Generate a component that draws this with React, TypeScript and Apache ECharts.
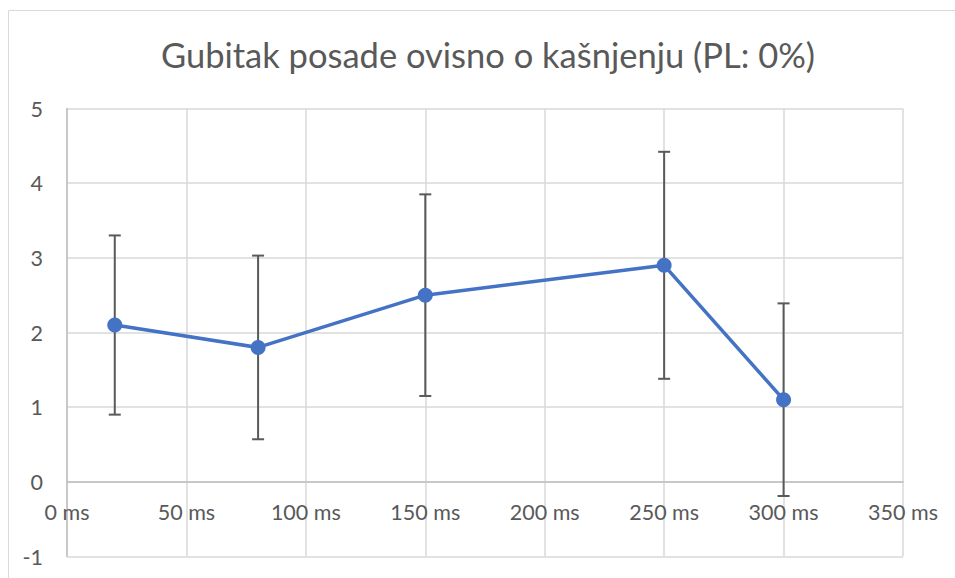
import React, { useEffect, useRef } from "react";
import * as echarts from "echarts";

const chartTitle = "Gubitak posade ovisno o kašnjenju (PL: 0%)";
const delaysMs = [20, 80, 150, 250, 300];
const crewLoss = [2.1, 1.8, 2.5, 2.9, 1.1];
const errorMargin = [1.2, 1.23, 1.35, 1.52, 1.29];
const xMin = 0;
const xMax = 350;
const xStep = 50;
const yMin = -1;
const yMax = 5;
const yStep = 1;

const FONT = "Lato";
const GRID_TOP = 108.5;
const GRID_BOTTOM = 21.5;
const CHART_H = 578;

export default function App() {
  const ref = useRef<HTMLDivElement>(null);
  useEffect(() => {
    if (!ref.current) return;
    const chart = echarts.init(ref.current, null, { renderer: "svg" });
    const lineData = delaysMs.map((x, i) => [x, crewLoss[i]]);
    const errData = delaysMs.map((x, i) => [x, crewLoss[i] - errorMargin[i], crewLoss[i] + errorMargin[i]]);
    const plotH = CHART_H - GRID_TOP - GRID_BOTTOM;
    const zeroOffset = -((0 - yMin) / (yMax - yMin)) * plotH;
    chart.setOption({
      animation: false,
      backgroundColor: "#ffffff",
      graphic: [
        {
          type: "rect",
          shape: { x: 8.5, y: 10.5, width: 1000, height: 1000 },
          style: { fill: "none", stroke: "#d9d9d9", lineWidth: 1 },
          silent: true,
          z: -10,
        },
        {
          type: "text",
          x: 488,
          y: 54,
          style: {
            text: chartTitle,
            fill: "#595959",
            font: `34.5px ${FONT}`,
            textAlign: "center",
            textVerticalAlign: "middle",
          },
        },
      ],
      grid: { left: 67, right: 52, top: GRID_TOP, bottom: GRID_BOTTOM, containLabel: false, outerBoundsMode: "none" },
      xAxis: {
        type: "value",
        min: xMin,
        max: xMax,
        interval: xStep,
        position: "bottom",
        offset: zeroOffset,
        axisLine: { show: true, onZero: false, lineStyle: { color: "#bfbfbf", width: 1.5 } },
        axisTick: { show: false },
        splitLine: { show: true, lineStyle: { color: "#d9d9d9", width: 1.5 } },
        axisLabel: {
          formatter: (v: number) => `${v} ms`,
          color: "#595959",
          fontFamily: FONT,
          fontSize: 21.5,
          margin: 19,
        },
      },
      yAxis: {
        type: "value",
        min: yMin,
        max: yMax,
        interval: yStep,
        axisLine: { show: true, onZero: false, lineStyle: { color: "#bfbfbf", width: 1.5 } },
        axisTick: { show: false },
        splitLine: { show: true, lineStyle: { color: "#d9d9d9", width: 1.5 } },
        axisLabel: {
          color: "#595959",
          fontFamily: FONT,
          fontSize: 21.5,
          margin: 24,
        },
      },
      series: [
        {
          type: "custom",
          z: 1,
          data: errData,
          encode: { x: 0, y: [1, 2] },
          renderItem: (params: any, api: any) => {
            const x = api.value(0);
            const lo = api.value(1);
            const hi = api.value(2);
            const top = api.coord([x, hi]);
            const bot = api.coord([x, lo]);
            const hw = 6;
            const style = { stroke: "#595959", lineWidth: 2 };
            return {
              type: "group",
              children: [
                { type: "line", shape: { x1: top[0], y1: top[1], x2: bot[0], y2: bot[1] }, style },
                { type: "line", shape: { x1: top[0] - hw, y1: top[1], x2: top[0] + hw, y2: top[1] }, style },
                { type: "line", shape: { x1: bot[0] - hw, y1: bot[1], x2: bot[0] + hw, y2: bot[1] }, style },
              ],
            };
          },
        },
        {
          type: "line",
          z: 3,
          data: lineData,
          symbol: "circle",
          symbolSize: 15,
          lineStyle: { color: "#4472C4", width: 3.5 },
          itemStyle: { color: "#4472C4" },
        },
      ],
    });
    return () => chart.dispose();
  }, []);
  return <div ref={ref} style={{ position: "fixed", left: 0, top: 0, width: 955, height: 578 }} />;
}
